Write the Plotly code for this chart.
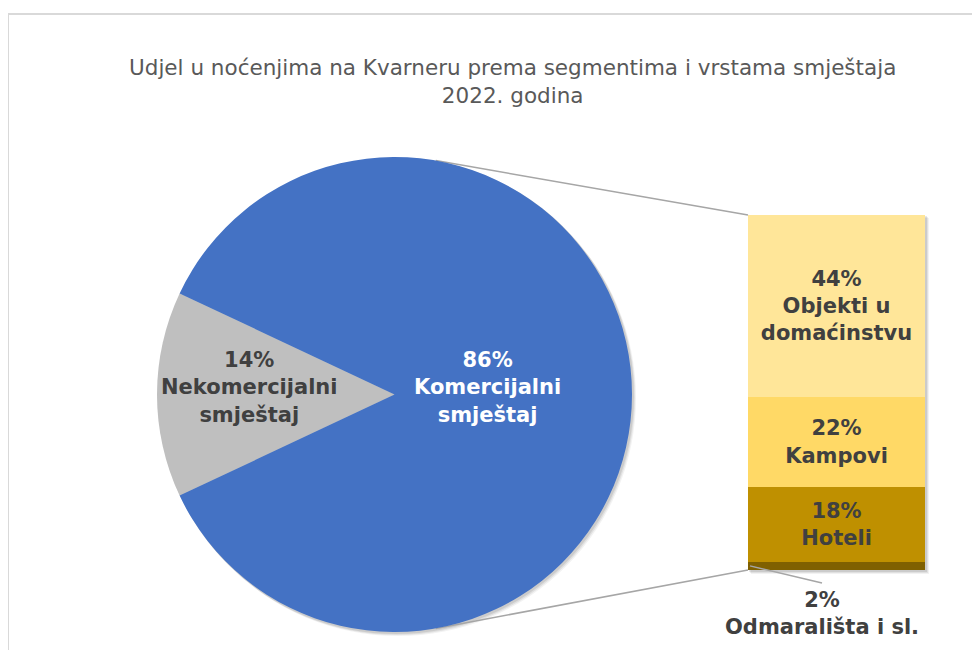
import numpy as np
import plotly.graph_objects as go

W, H = 980, 650
OFF = 8  # default page margin around the plot div

TITLE = "Udjel u noćenjima na Kvarneru prema segmentima i vrstama smještaja<br>2022. godina"

# pie: main split
pie_labels = ["Nekomercijalni<br>smještaj", "Komercijalni<br>smještaj"]
pie_values = [14, 86]
pie_colors = ["#BFBFBF", "#4472C4"]
pie_text_colors = ["#404040", "#FFFFFF"]

# bar: breakdown of the commercial part (bottom -> top)
bar_labels = ["Odmarališta i sl.", "Hoteli", "Kampovi", "Objekti u<br>domaćinstvu"]
bar_values = [2, 18, 22, 44]
bar_colors = ["#7F6000", "#BF9000", "#FFD966", "#FFE699"]

FONT = "DejaVu Sans"
DARK = "#404040"
LBL_SIZE = 21


def px2paper(x, y):
    return (x - OFF) / W, 1 - (y - OFF) / H


# geometry in screen pixels
cx, cy, R = 394.5, 394.5, 237.5
bar_x0, bar_x1, bar_top, bar_bot = 748, 925, 215, 570

fig = go.Figure()

total = sum(pie_values)
small_share = pie_values[0] / total
pl, pb = px2paper(cx - R, cy + R)
pr, pt = px2paper(cx + R, cy - R)
fig.add_trace(go.Pie(
    values=pie_values,
    labels=pie_labels,
    sort=False,
    direction="clockwise",
    rotation=270 - small_share * 360 / 2,
    marker=dict(colors=pie_colors, line=dict(width=0)),
    textinfo="none",
    hoverinfo="label+percent",
    showlegend=False,
    domain=dict(x=[pl, pr], y=[pb, pt]),
))

for lab, val, col in zip(bar_labels, bar_values, bar_colors):
    txt = "" if val < 5 else f"<b>{val}%<br>{lab}</b>"
    fig.add_trace(go.Bar(
        x=[0], y=[val], width=[1],
        marker=dict(color=col, line=dict(width=0)),
        text=[txt], textposition="inside", insidetextanchor="middle",
        textangle=0, textfont=dict(family=FONT, size=LBL_SIZE, color=DARK),
        name=lab.replace("<br>", " "), showlegend=False,
    ))

bl, bb = px2paper(bar_x0, bar_bot)
br, bt = px2paper(bar_x1, bar_top)
fig.update_layout(
    barmode="stack",
    width=W, height=H,
    margin=dict(l=0, r=0, t=0, b=0),
    paper_bgcolor="white", plot_bgcolor="rgba(0,0,0,0)",
    font=dict(family=FONT),
    xaxis=dict(domain=[bl, br], range=[-0.5, 0.5], visible=False, fixedrange=True),
    yaxis=dict(domain=[bb, bt], range=[0, sum(bar_values)], visible=False, fixedrange=True),
)


def label(x, y, text, size, color):
    px_, py_ = px2paper(x, y)
    fig.add_annotation(x=px_, y=py_, xref="paper", yref="paper", showarrow=False,
                       xanchor="center", yanchor="middle", text=text,
                       font=dict(family=FONT, size=size, color=color))


# soft shadows behind pie and bar
for d, alpha in [(4, 0.05), (3, 0.07), (2, 0.09)]:
    s0 = px2paper(cx - R + d - 1, cy + R + d)
    s1 = px2paper(cx + R + d, cy - R + d - 1)
    fig.add_shape(type="circle", xref="paper", yref="paper",
                  x0=s0[0], y0=s0[1], x1=s1[0], y1=s1[1],
                  fillcolor=f"rgba(0,0,0,{alpha})", line=dict(width=0), layer="below")
    r0 = px2paper(bar_x0 + d - 1, bar_bot + d)
    r1 = px2paper(bar_x1 + d, bar_top + d - 1)
    fig.add_shape(type="rect", xref="paper", yref="paper",
                  x0=r0[0], y0=r0[1], x1=r1[0], y1=r1[1],
                  fillcolor=f"rgba(0,0,0,{alpha})", line=dict(width=0), layer="below")

# pie labels
for i, (ang, rf) in enumerate([(np.pi, 0.61), (0.0, 0.39)]):
    label(cx + rf * R * np.cos(ang), cy - 7,
          f"<b>{pie_values[i]}%<br>{pie_labels[i]}</b>", LBL_SIZE, pie_text_colors[i])

# connector lines between pie and bar
conn_ang = np.deg2rad(80)
for sign, by in [(-1, bar_top), (1, bar_bot)]:
    p0 = px2paper(cx + R * np.cos(conn_ang), cy + sign * R * np.sin(conn_ang))
    p1 = px2paper(bar_x0, by)
    fig.add_shape(type="line", xref="paper", yref="paper",
                  x0=p0[0], y0=p0[1], x1=p1[0], y1=p1[1],
                  line=dict(color="#A6A6A6", width=1.5), layer="below")

# small segment label with leader line
small_mid = bar_bot - bar_values[0] / sum(bar_values) * (bar_bot - bar_top) / 2
a0 = px2paper(bar_x0 + 2, small_mid)
a1 = px2paper(822, 583)
fig.add_shape(type="line", xref="paper", yref="paper",
              x0=a0[0], y0=a0[1], x1=a1[0], y1=a1[1],
              line=dict(color="#A6A6A6", width=1.5))
label(822, 613, f"<b>{bar_values[0]}%<br>{bar_labels[0]}</b>", LBL_SIZE, DARK)

# title
label(513, 82, TITLE, 21.5, "#595959")

# chart area border
b0 = px2paper(8, 14)
fig.add_shape(type="rect", xref="paper", yref="paper",
              x0=b0[0], y0=-0.05, x1=1.05, y1=b0[1],
              line=dict(color="#D9D9D9", width=2), layer="below")

fig.write_html("out.html")
